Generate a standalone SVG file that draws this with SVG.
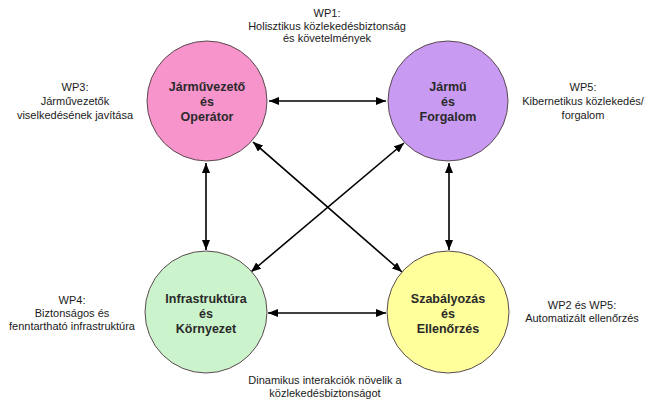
<svg xmlns="http://www.w3.org/2000/svg" width="655" height="406" viewBox="0 0 655 406">
<style>
.lbl{font-family:"Liberation Sans",Arial,sans-serif;font-size:11px;fill:#1a1a1a;text-anchor:middle}
.nt{font-family:"Liberation Sans",Arial,sans-serif;font-size:12.5px;font-weight:bold;fill:#2a2a2a;text-anchor:middle}
.c{stroke:#5a4a50;stroke-width:1}
.a{stroke:#000;stroke-width:1.6;fill:none;marker-start:url(#ah);marker-end:url(#ah)}
</style>
<defs>
<marker id="ah" viewBox="0 0 10 8" refX="10" refY="4" markerWidth="10" markerHeight="8" markerUnits="userSpaceOnUse" orient="auto-start-reverse">
<path d="M0,0 L10,4 L0,8 Z" fill="#000"/>
</marker>
</defs>
<rect width="655" height="406" fill="#fff"/>
<g id="connectors">
<line class="a" x1="269" y1="101" x2="386" y2="101"/>
<line class="a" x1="268" y1="313" x2="386" y2="313"/>
<line class="a" x1="206" y1="163" x2="206" y2="250"/>
<line class="a" x1="449" y1="163" x2="449" y2="250"/>
<line class="a" x1="253" y1="142" x2="402" y2="272"/>
<line class="a" x1="251" y1="272" x2="404" y2="143"/>
</g>
<g id="node-driver">
<circle class="c" cx="207" cy="101" r="60" fill="#f794cc"/>
<text class="nt" x="207" y="91">Járművezető</text>
<text class="nt" x="207" y="106">és</text>
<text class="nt" x="207" y="121">Operátor</text>
</g>
<g id="node-vehicle">
<circle class="c" cx="448" cy="101" r="60" fill="#c99af2"/>
<text class="nt" x="448" y="91">Jármű</text>
<text class="nt" x="448" y="106">és</text>
<text class="nt" x="448" y="121">Forgalom</text>
</g>
<g id="node-infra">
<circle class="c" cx="206" cy="312" r="61" fill="#ccf4cc"/>
<text class="nt" x="206" y="303">Infrastruktúra</text>
<text class="nt" x="206" y="318">és</text>
<text class="nt" x="206" y="333">Környezet</text>
</g>
<g id="node-reg">
<circle class="c" cx="448" cy="312" r="61" fill="#ffff9c"/>
<text class="nt" x="448" y="303">Szabályozás</text>
<text class="nt" x="448" y="318">és</text>
<text class="nt" x="448" y="333">Ellenőrzés</text>
</g>
<g id="labels">
<text class="lbl" x="327" y="17">WP1:</text>
<text class="lbl" x="327" y="30">Holisztikus közlekedésbiztonság</text>
<text class="lbl" x="327" y="42">és követelmények</text>
<text class="lbl" x="75" y="91">WP3:</text>
<text class="lbl" x="75" y="105">Járművezetők</text>
<text class="lbl" x="75" y="119">viselkedésének javítása</text>
<text class="lbl" x="583" y="91">WP5:</text>
<text class="lbl" x="583" y="105">Kibernetikus közlekedés/</text>
<text class="lbl" x="583" y="119">forgalom</text>
<text class="lbl" x="72" y="304">WP4:</text>
<text class="lbl" x="72" y="317">Biztonságos és</text>
<text class="lbl" x="72" y="330">fenntartható infrastruktúra</text>
<text class="lbl" x="582" y="309">WP2 és WP5:</text>
<text class="lbl" x="582" y="322">Automatizált ellenőrzés</text>
<text class="lbl" x="325" y="384">Dinamikus interakciók növelik a</text>
<text class="lbl" x="325" y="397">közlekedésbiztonságot</text>
</g>
</svg>
